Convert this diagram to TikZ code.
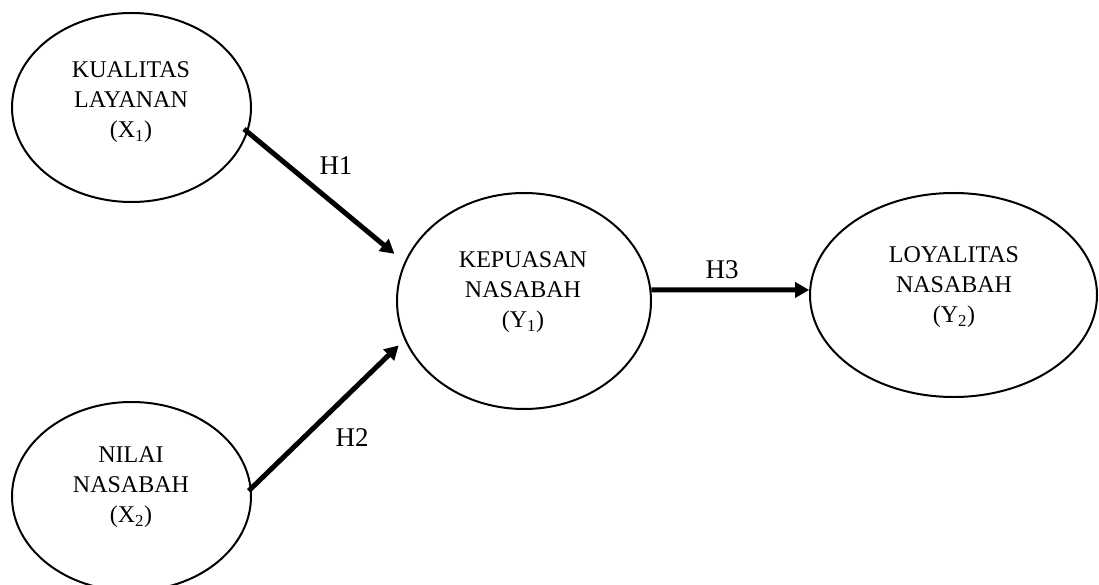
\documentclass[tikz,border=0pt]{standalone}
\usepackage{fontspec}
\setmainfont{Liberation Serif}
\usetikzlibrary{shapes.geometric,arrows.meta}
\tikzset{
  latent/.style={draw,ellipse,line width=2pt,inner sep=0pt},
  txt/.style={align=center,font=\fontsize{24}{30}\selectfont,inner sep=0pt},
  hyp/.style={font=\fontsize{27}{30}\selectfont,inner sep=0pt},
  path/.style={line width=5pt,-{Triangle[length=14pt,width=15pt]}}
}
\begin{document}
\begin{tikzpicture}[x=1pt,y=1pt]
\useasboundingbox (0,0) rectangle (1099,-585);
\clip (0,0) rectangle (1099,-585);
\node[latent,minimum width=239pt,minimum height=189pt] (x1) at (131.5,-107.5) {};
\node[latent,minimum width=239pt,minimum height=189pt] (x2) at (131.5,-496.5) {};
\node[latent,minimum width=254pt,minimum height=216pt] (y1) at (524,-301) {};
\node[latent,minimum width=287pt,minimum height=204pt] (y2) at (953.5,-295) {};
\node[txt] (tx1) at (131,-102) {KUALITAS\\LAYANAN\\(X\textsubscript{1})};
\node[txt] (tx2) at (131,-487) {NILAI\\NASABAH\\(X\textsubscript{2})};
\node[txt] (ty1) at (523,-292) {KEPUASAN\\NASABAH\\(Y\textsubscript{1})};
\node[txt] (ty2) at (954,-287) {LOYALITAS\\NASABAH\\(Y\textsubscript{2})};
\draw[path,shorten <=-5pt,shorten >=13pt] (x1.-12.2) -- (y1.162.4);
\draw[path,shorten <=-4pt,shorten >=8pt] (x2.4.8) -- (y1.198);
\draw[path] (y1.5) -- (y2.178);
\node[hyp] (h1) at (336,-166) {H1};
\node[hyp] (h2) at (352,-438) {H2};
\node[hyp] (h3) at (722,-270) {H3};
\end{tikzpicture}
\end{document}
